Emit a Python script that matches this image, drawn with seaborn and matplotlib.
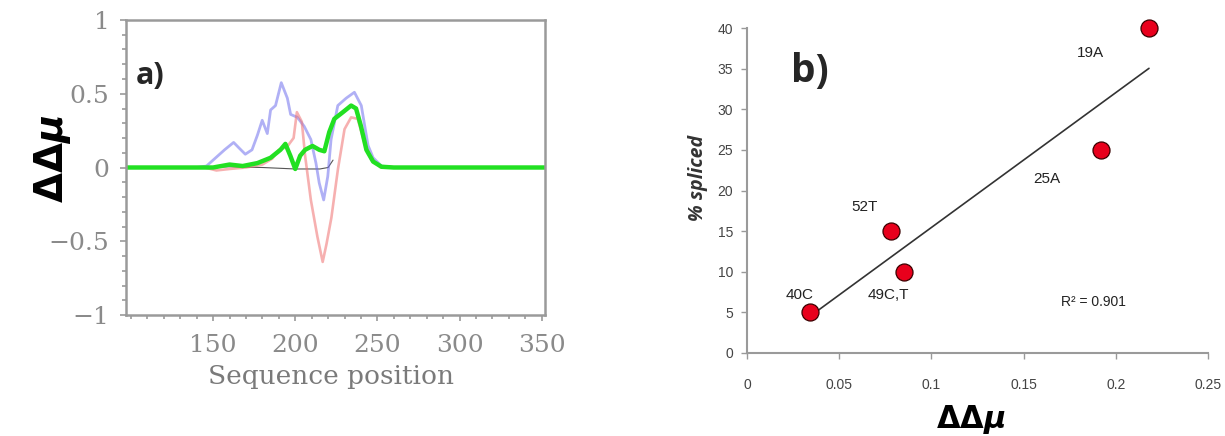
import numpy as np
import pandas as pd
import matplotlib
matplotlib.use("Agg")
import matplotlib.pyplot as plt
from matplotlib.ticker import MultipleLocator
import seaborn as sns

# ---------------- data: panel a (profiles along sequence) ----------------
blue_pos = [95, 140, 146, 152, 157, 162.5, 166, 169.6, 173.7, 177, 179.9, 183, 185, 188,
            191.5, 195.2, 197.2, 201.3, 205.4, 209.5, 212.6, 214.6, 217.3, 219.8, 221.8,
            225.9, 231, 236, 240.2, 244.3, 247.4, 252.5, 260, 355]
blue_val = [0, 0, 0.01, 0.07, 0.12, 0.17, 0.13, 0.09, 0.12, 0.22, 0.32, 0.23, 0.39, 0.42,
            0.575, 0.47, 0.36, 0.34, 0.28, 0.19, 0.03, -0.105, -0.22, -0.06, 0.19,
            0.42, 0.47, 0.51, 0.42, 0.15, 0.066, 0.01, 0, 0]

red_pos = [95, 145, 152, 160, 170, 180, 186, 190, 195, 199, 201, 204, 206, 209.5, 213.5,
           216.7, 219, 222, 226, 230, 234, 238, 242, 246, 252, 355]
red_val = [0, 0, -0.02, -0.01, 0, 0.02, 0.06, 0.12, 0.14, 0.2, 0.375, 0.31, 0.08, -0.22, -0.47,
           -0.64, -0.52, -0.34, -0.01, 0.26, 0.34, 0.33, 0.17, 0.06, 0, 0]

green_pos = [95, 150, 160, 168, 177, 185, 191, 194, 197, 200, 203, 206, 210.5, 214.6, 217.7,
             220.7, 223.8, 229, 234, 237, 240, 243.3, 247.4, 252.5, 260, 355]
green_val = [0, 0, 0.02, 0.01, 0.03, 0.066, 0.12, 0.16, 0.08, -0.01, 0.08, 0.12, 0.146, 0.12, 0.11,
             0.24, 0.33, 0.375, 0.42, 0.40, 0.28, 0.12, 0.04, 0.005, 0, 0]

gray_pos = [145, 160, 180, 200, 215, 220, 223]
gray_val = [0, 0.005, 0, -0.01, -0.01, 0, 0.05]

a_xticks = [150, 200, 250, 300, 350]
a_yticks = [-1, -0.5, 0, 0.5, 1]
a_yticklabels = ["\u22121", "\u22120.5", "0", "0.5", "1"]

# ---------------- data: panel b (scatter) ----------------
mutations = ["40C", "52T", "49C,T", "25A", "19A"]
ddmu = [0.034, 0.078, 0.085, 0.192, 0.218]
spliced = [5, 15, 10, 25, 40]
label_x = [0.0285, 0.0638, 0.0767, 0.1625, 0.186]
label_y = [7.1, 18.0, 7.1, 21.4, 36.9]
b_xticks = [0, 0.05, 0.1, 0.15, 0.2, 0.25]
b_xticklabels = ["0", "0.05", "0.1", "0.15", "0.2", "0.25"]
b_yticks = [0, 5, 10, 15, 20, 25, 30, 35, 40]
r2_text = "R\u00b2 = 0.901"

sns.set_style("white")
plt.rcParams["font.family"] = ["DejaVu Sans"]
plt.rcParams["mathtext.fontset"] = "dejavusans"

fig = plt.figure(figsize=(12.25, 4.36), dpi=100)
ax1 = fig.add_axes([126 / 1225, 1 - 315 / 436, 419 / 1225, 295 / 436])
ax2 = fig.add_axes([747 / 1225, 1 - 353 / 436, 461 / 1225, 325 / 436])

# ---------------- panel a ----------------
series = [
    (gray_pos, gray_val, "#555555", 0.8, 1.0),
    (blue_pos, blue_val, "#7070ee", 2.0, 0.55),
    (red_pos, red_val, "#f07070", 1.9, 0.55),
    (green_pos, green_val, "#22e022", 3.2, 1.0),
]
for pos, val, col, lw, al in series:
    df = pd.DataFrame({"pos": pos, "val": val})
    sns.lineplot(data=df, x="pos", y="val", ax=ax1, color=col, lw=lw, alpha=al,
                 sort=False, estimator=None)

ax1.set_xlim(97, 352)
ax1.set_ylim(-1, 1)
ax1.set_xticks(a_xticks)
ax1.set_yticks(a_yticks)
ax1.set_yticklabels(a_yticklabels)
ax1.xaxis.set_minor_locator(MultipleLocator(10))
ax1.yaxis.set_minor_locator(MultipleLocator(0.1))
serif = ["DejaVu Serif"]
for lab in ax1.get_xticklabels() + ax1.get_yticklabels():
    lab.set_family(serif)
    lab.set_fontsize(18)
    lab.set_color("#8a8a8a")
ax1.tick_params(axis="both", which="both", direction="out", colors="#999999",
                bottom=True, left=True, top=False, right=False)
ax1.tick_params(axis="both", which="major", length=4, width=1.2)
ax1.tick_params(axis="both", which="minor", length=3, width=1.2)
ax1.tick_params(axis="y", which="major", pad=8, labelcolor="#8a8a8a")
ax1.tick_params(axis="x", which="major", pad=10, labelcolor="#8a8a8a")
for s in ax1.spines.values():
    s.set_color("#9a9a9a")
    s.set_linewidth(1.8)
ax1.set_xlabel("Sequence position", family=serif, fontsize=19, color="#7a7a7a", va="center")
ax1.xaxis.set_label_coords(0.49, -0.21)
ax1.set_ylabel(r"$\mathbf{\Delta\Delta}\boldsymbol{\mu}$", fontsize=28, color="black",
               va="center")
ax1.yaxis.set_label_coords(-0.175, 0.53)
ax1.text(0.057, 0.81, "a)", transform=ax1.transAxes, fontsize=22, fontweight="bold",
         family=["Open Sans", "DejaVu Sans"], ha="center", va="center")

# ---------------- panel b ----------------
bdf = pd.DataFrame({"ddmu": ddmu, "spliced": spliced, "mut": mutations})
sns.regplot(data=bdf, x="ddmu", y="spliced", ax=ax2, scatter=False, ci=None, truncate=True,
            line_kws={"color": "#333333", "lw": 1.2})
sns.scatterplot(data=bdf, x="ddmu", y="spliced", ax=ax2, s=150, color="#e8001c",
                edgecolor="#3a0000", linewidth=0.9, zorder=5, clip_on=False)
narrow = ["Liberation Sans Narrow", "Liberation Sans", "DejaVu Sans"]
for name, lx, ly in zip(mutations, label_x, label_y):
    ax2.text(lx, ly, name, family=narrow, fontsize=11, color="#222222",
             ha="center", va="center")
ax2.text(0.188, 6.3, r2_text, family=narrow, fontsize=10, color="#222222",
         ha="center", va="center")

ax2.set_xlim(0, 0.25)
ax2.set_ylim(0, 40)
ax2.set_xticks(b_xticks)
ax2.set_xticklabels(b_xticklabels)
ax2.set_yticks(b_yticks)
for lab in ax2.get_xticklabels() + ax2.get_yticklabels():
    lab.set_family(narrow)
    lab.set_fontsize(10)
    lab.set_color("#444444")
ax2.tick_params(axis="both", direction="out", length=4, width=1.0, colors="#999999",
                bottom=True, left=True)
ax2.tick_params(axis="x", pad=14, labelcolor="#444444")
ax2.tick_params(axis="y", pad=6, labelcolor="#444444")
ax2.spines["top"].set_visible(False)
ax2.spines["right"].set_visible(False)
for k in ("left", "bottom"):
    ax2.spines[k].set_color("#9a9a9a")
    ax2.spines[k].set_linewidth(1.5)
ax2.set_xlabel(r"$\mathbf{\Delta\Delta}\boldsymbol{\mu}$", fontsize=22, color="black",
               va="center")
ax2.xaxis.set_label_coords(0.486, -0.205)
ax2.set_ylabel("% spliced", family=["Open Sans", "DejaVu Sans"], fontsize=14,
               fontweight="bold", style="italic", color="#333333", va="center")
ax2.yaxis.set_label_coords(-0.106, 0.538)
ax2.text(0.137, 0.865, "b)", transform=ax2.transAxes, fontsize=28, fontweight="bold",
         family=["Open Sans", "DejaVu Sans"], ha="center", va="center")

fig.savefig("out.png", dpi=100, facecolor="white")
